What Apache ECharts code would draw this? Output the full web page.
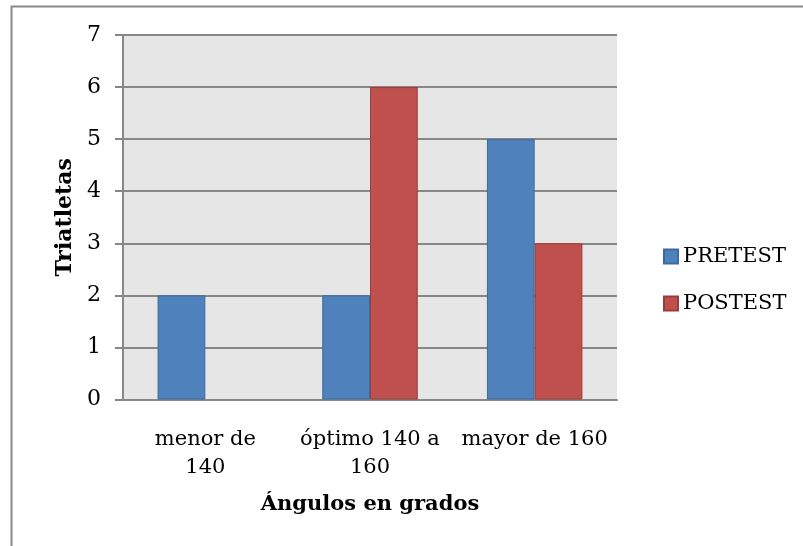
<!DOCTYPE html>
<html>
<head>
<meta charset="utf-8">
<script src="https://cdn.jsdelivr.net/npm/echarts@6/dist/echarts.min.js"></script>
<style>
  html, body { margin: 0; padding: 0; background: #fff; }
  #chart { width: 803px; height: 546px; }
</style>
</head>
<body>
<div id="chart"></div>
<script>
// Category labels (line breaks where the labels wrap)
const categories = ['menor de\n140', 'óptimo 140 a\n160', 'mayor de 160'];
// Number of triathletes per angle range
const pretest = [2, 2, 5];
const posttest = [0, 6, 3];
const seriesNames = ['PRETEST', 'POSTEST'];
const yTicks = [0, 1, 2, 3, 4, 5, 6, 7];

const FONT = 'DejaVu Serif';
const GRAY = '#878787';

// Zero-height bars get no outline so nothing is drawn for them
const toBarData = (values) => values.map(v => v === 0
  ? { value: v, itemStyle: { borderWidth: 0, opacity: 0 } }
  : v);

const chart = echarts.init(document.getElementById('chart'), null, { renderer: 'canvas' });

chart.setOption({
  animation: false,
  backgroundColor: '#ffffff',
  textStyle: { fontFamily: FONT, color: '#000' },
  graphic: [{
    type: 'rect',
    shape: { x: 11.5, y: 6.5, width: 900, height: 700 },
    style: { fill: 'none', stroke: '#8a8a8a', lineWidth: 2 },
    silent: true,
    z: -1
  }],
  grid: {
    left: 123, right: 186, top: 35, bottom: 146.5,
    show: true, backgroundColor: '#e6e6e6', borderWidth: 0
  },
  legend: {
    orient: 'vertical',
    left: 658, top: 241,
    itemWidth: 14, itemHeight: 14, itemGap: 26,
    icon: 'rect',
    textStyle: { fontFamily: FONT, fontSize: 21, color: '#000' },
    data: seriesNames
  },
  xAxis: {
    type: 'category',
    data: categories,
    name: 'Ángulos en grados',
    nameLocation: 'middle',
    nameGap: 95,
    nameTextStyle: { fontFamily: FONT, fontWeight: 'bold', fontSize: 21, color: '#000' },
    axisLine: { lineStyle: { color: GRAY, width: 2 } },
    axisTick: { show: false },
    axisLabel: { fontFamily: FONT, fontSize: 21, color: '#000', margin: 26, lineHeight: 28, interval: 0 },
    splitLine: { show: false }
  },
  yAxis: {
    type: 'value',
    min: yTicks[0], max: yTicks[yTicks.length - 1], interval: 1,
    name: 'Triatletas',
    nameLocation: 'middle',
    nameGap: 47,
    nameRotate: 90,
    nameTextStyle: { fontFamily: FONT, fontWeight: 'bold', fontSize: 22, color: '#000' },
    axisLine: { show: true, lineStyle: { color: GRAY, width: 2 } },
    axisTick: { show: true, length: 8, lineStyle: { color: GRAY, width: 2 } },
    axisLabel: { fontFamily: FONT, fontSize: 22, color: '#000', margin: 22 },
    splitLine: { show: true, lineStyle: { color: GRAY, width: 2 } }
  },
  series: [
    {
      name: seriesNames[0], type: 'bar', data: toBarData(pretest),
      barGap: '0%', barCategoryGap: '42%',
      itemStyle: { color: '#4f81bd', borderColor: '#3d6a9c', borderWidth: 1 }
    },
    {
      name: seriesNames[1], type: 'bar', data: toBarData(posttest),
      itemStyle: { color: '#c0504d', borderColor: '#9c3c3a', borderWidth: 1 }
    }
  ]
});
</script>
</body>
</html>
